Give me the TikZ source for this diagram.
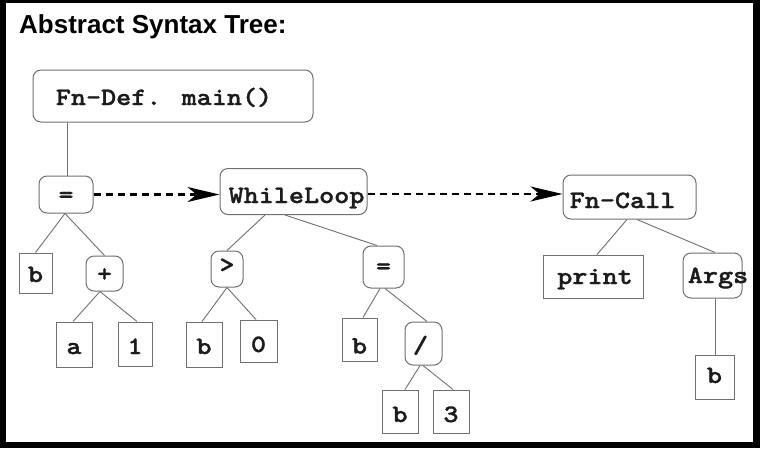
\documentclass[tikz,border=0pt]{standalone}
\usepackage{fontspec}
\setmainfont{Liberation Sans}
\newfontfamily\codefont{lmmonolt10-bold}[Extension=.otf, FakeStretch=1.15, FakeBold=1.2]
\usetikzlibrary{arrows.meta}

% node text: shifted by #1 horizontally and #2 down, taking no room of its own
\newcommand\tx[3]{\raisebox{-#2}[0pt][0pt]{\makebox[0pt]{\kern#1\relax#3\kern-#1\relax}}}

\definecolor{edgegray}{HTML}{707070}
\definecolor{inkdark}{HTML}{1C1C1C}

\tikzset{
  box/.style={draw=edgegray, line width=1pt, inner sep=0pt, text height=0pt, text depth=0pt,
              font=\codefont\fontsize{25}{25}\selectfont, text=inkdark},
  rbox/.style={box, rounded corners=8pt},
  sbox/.style={box},
  treeedge/.style={draw=edgegray, line width=0.9pt},
  seqarrow/.style={draw=black, line width=2.2pt, dash pattern=on 7pt off 5pt,
                   -{Stealth[length=32pt, width=15pt, inset=9pt]}}
}

\begin{document}
\begin{tikzpicture}[x=1pt, y=-1pt]
  % frame
  \fill[black] (0,0) rectangle (760,448);
  \fill[white] (6,3) rectangle (753,442);
  \useasboundingbox (0,0) rectangle (760,448);

  \node[anchor=base west, inner sep=0pt, font=\bfseries\fontsize{26}{26}\selectfont] (title) at (19,33) {Abstract Syntax Tree:};

  % rounded nodes
  \node[rbox, minimum width=280pt, minimum height=52pt] (fndef)  at (173,96)    {\tx{-9pt}{9pt}{Fn-Def. main()}};
  \node[rbox, minimum width=54pt,  minimum height=37pt] (eq1)    at (66,194.5)  {\tx{0pt}{8pt}{=}};
  \node[rbox, minimum width=147pt, minimum height=46pt] (while)  at (293.5,191.5) {\tx{3pt}{11.5pt}{WhileLoop}};
  \node[rbox, minimum width=133pt, minimum height=44pt] (fncall) at (629.5,197)  {\tx{-7pt}{11pt}{Fn-Call}};
  \node[rbox, minimum width=37pt,  minimum height=35pt] (plus)   at (104.5,273.5) {\tx{0pt}{8pt}{+}};
  \node[rbox, minimum width=32pt,  minimum height=36pt] (gt)     at (227,269)   {\tx{0pt}{3.5pt}{>}};
  \node[rbox, minimum width=41pt,  minimum height=42pt] (eq2)    at (383.5,267) {\tx{0pt}{7pt}{=}};
  \node[rbox, minimum width=37pt,  minimum height=43pt] (div)    at (423.5,343.5) {\tx{-3pt}{9.5pt}{/}};
  \node[rbox, minimum width=59pt,  minimum height=45pt] (args)   at (712.5,275.5) {\tx{5.5pt}{7.5pt}{Args}};

  % leaf nodes
  \node[sbox, minimum width=33pt,  minimum height=40pt] (b1)    at (35.5,273)  {\tx{0pt}{9pt}{b}};
  \node[sbox, minimum width=36pt,  minimum height=45pt] (a)     at (74,344.5)  {\tx{0pt}{9.5pt}{a}};
  \node[sbox, minimum width=34pt,  minimum height=44pt] (one)   at (135,344)   {\tx{0pt}{10pt}{1}};
  \node[sbox, minimum width=36pt,  minimum height=45pt] (b2)    at (204,344.5) {\tx{0pt}{9.5pt}{b}};
  \node[sbox, minimum width=37pt,  minimum height=42pt] (zero)  at (258.5,341) {\tx{0pt}{11pt}{0}};
  \node[sbox, minimum width=35pt,  minimum height=43pt] (b3)    at (359.5,339.5) {\tx{0pt}{14pt}{b}};
  \node[sbox, minimum width=36pt,  minimum height=43pt] (b4)    at (400,411.5) {\tx{0pt}{10.5pt}{b}};
  \node[sbox, minimum width=36pt,  minimum height=43pt] (three) at (451,411.5) {\tx{0pt}{10.5pt}{3}};
  \node[sbox, minimum width=100pt, minimum height=43pt] (print) at (593,276.5) {\tx{2pt}{7.5pt}{print}};
  \node[sbox, minimum width=39pt,  minimum height=44pt] (b5)    at (714.5,377) {\tx{0pt}{6pt}{b}};

  % tree edges
  \draw[treeedge] ([xshift=-106pt]fndef.south) -- ([xshift=1pt]eq1.north);
  \draw[treeedge] ([xshift=-1pt]eq1.south) -- (b1.north);
  \draw[treeedge] ([xshift=-1pt]eq1.south) -- (plus.north);
  \draw[treeedge] ([xshift=-4.5pt]plus.south) -- ([xshift=-1pt]a.north);
  \draw[treeedge] ([xshift=-4.5pt]plus.south) -- ([xshift=2pt]one.north);
  \draw[treeedge] ([xshift=-28.5pt]while.south) -- (gt.north);
  \draw[treeedge] ([xshift=-8.5pt]while.south) -- ([xshift=-6.5pt]eq2.north);
  \draw[treeedge] (gt.south) -- ([xshift=-2pt]b2.north);
  \draw[treeedge] (gt.south) -- ([xshift=-2.5pt]zero.north);
  \draw[treeedge] ([xshift=-3.5pt]eq2.south) -- ([xshift=3.5pt]b3.north);
  \draw[treeedge] ([xshift=1.5pt]eq2.south) -- ([xshift=3.5pt]div.north);
  \draw[treeedge] ([xshift=-3.5pt]div.south) -- ([xshift=5pt]b4.north);
  \draw[treeedge] ([xshift=-0.5pt]div.south) -- ([xshift=2pt]three.north);
  \draw[treeedge] ([xshift=-2.5pt]fncall.south) -- ([xshift=4pt]print.north);
  \draw[treeedge] ([xshift=7.5pt]fncall.south) -- ([xshift=2.5pt]args.north);
  \draw[treeedge] ([xshift=2.5pt]args.south) -- ([xshift=0.5pt]b5.north);

  % statement sequence
  \draw[seqarrow] (eq1.east) -- (eq1.east -| while.west);
  \draw[seqarrow] ([yshift=-2.5pt]while.east) -- ([yshift=-2.5pt]while.east -| fncall.west);
\end{tikzpicture}
\end{document}
